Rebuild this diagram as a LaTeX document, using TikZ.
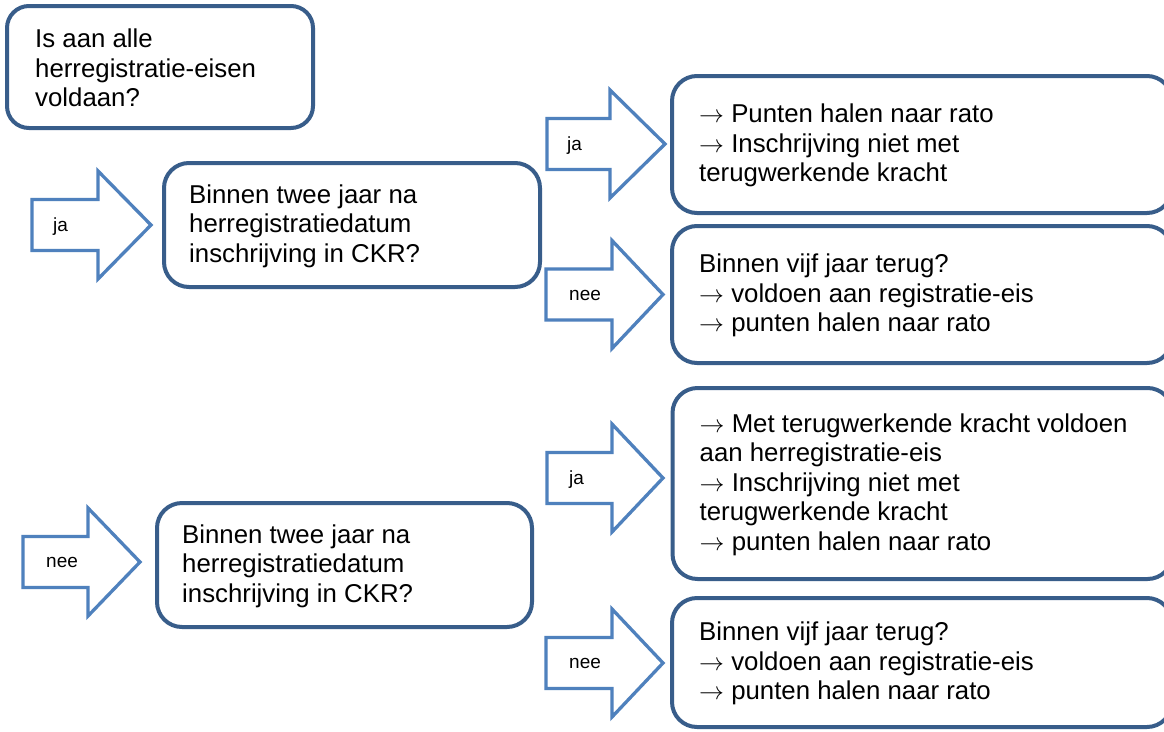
\documentclass[tikz,border=0pt]{standalone}
\usepackage{fontspec}
\setmainfont{Liberation Sans}
\definecolor{boxblue}{HTML}{385D8A}
\definecolor{arrowblue}{HTML}{4F81BD}
\tikzset{
  qbox/.style={draw=boxblue, line width=4pt, rounded corners=25pt, fill=white, inner sep=0pt},
  btext/.style={font=\fontsize{25.8}{29.5}\selectfont, align=left, inner sep=0pt, anchor=west},
  barrow/.style={draw=arrowblue, line width=3.3pt, line join=miter, fill=white},
  alabel/.style={font=\fontsize{19}{22}\selectfont, inner sep=0pt, anchor=base west},
}
\newcommand\arr{$\rightarrow$}
\newcommand\blkarrow[4]{%
  \draw[barrow] (#1,#2-25.5) -- (#3,#2-25.5) -- (#3,#2-54) -- (#4,#2)
    -- (#3,#2+54) -- (#3,#2+25.5) -- (#1,#2+25.5) -- cycle;}
\begin{document}
\begin{tikzpicture}[x=1pt,y=-1pt]
\useasboundingbox (0,0) rectangle (1164,731);
\clip (0,0) rectangle (1164,731);
\fill[white] (0,0) rectangle (1164,731);

% boxes
\node[qbox, rounded corners=22pt, minimum width=306pt, minimum height=122pt] (b0) at (160,67) {};
\node[qbox, minimum width=376pt, minimum height=124pt] (b1) at (352,225) {};
\node[qbox, minimum width=375pt, minimum height=124pt] (b4) at (344.5,565) {};
\node[qbox, minimum width=500pt, minimum height=137pt] (b2) at (922,144.5) {};
\node[qbox, minimum width=500pt, minimum height=137pt] (b3) at (922,294.5) {};
\node[qbox, minimum width=500pt, minimum height=191pt] (b5) at (922.5,483.5) {};
\node[qbox, minimum width=500pt, minimum height=129pt] (b6) at (922,662.5) {};

% texts
\node[btext] (t0) at ([xshift=30pt,yshift=-1pt]b0.west) {Is aan alle\\herregistratie-eisen\\voldaan?};
\node[btext] (t1) at ([xshift=27pt,yshift=-1pt]b1.west) {Binnen twee jaar na\\herregistratiedatum\\inschrijving in CKR?};
\node[btext] (t4) at ([xshift=27pt,yshift=-1pt]b4.west) {Binnen twee jaar na\\herregistratiedatum\\inschrijving in CKR?};
\node[btext] (t2) at ([xshift=29pt,yshift=-1pt]b2.west) {\arr{} Punten halen naar rato\\\arr{} Inschrijving niet met\\terugwerkende kracht};
\node[btext] (t3) at ([xshift=29pt,yshift=-1pt]b3.west) {Binnen vijf jaar terug?\\\arr{} voldoen aan registratie-eis\\\arr{} punten halen naar rato};
\node[btext] (t5) at ([xshift=29pt,yshift=-1pt]b5.west) {\arr{} Met terugwerkende kracht voldoen\\aan herregistratie-eis\\\arr{} Inschrijving niet met\\terugwerkende kracht\\\arr{} punten halen naar rato};
\node[btext] (t6) at ([xshift=29pt,yshift=-1pt]b6.west) {Binnen vijf jaar terug?\\\arr{} voldoen aan registratie-eis\\\arr{} punten halen naar rato};

% block arrows
\blkarrow{32}{225}{98}{151}
\blkarrow{547}{144}{610}{665}
\blkarrow{546}{294.5}{612}{663}
\blkarrow{23}{562}{88}{140}
\blkarrow{547}{478}{612}{663}
\blkarrow{546}{663}{612}{663}

% arrow labels
\node[alabel] (l1) at (53,231) {ja};
\node[alabel] (l2) at (567,150) {ja};
\node[alabel] (l3) at (569,300) {nee};
\node[alabel] (l4) at (46,567) {nee};
\node[alabel] (l5) at (569,484) {ja};
\node[alabel] (l6) at (569,668) {nee};
\end{tikzpicture}
\end{document}
